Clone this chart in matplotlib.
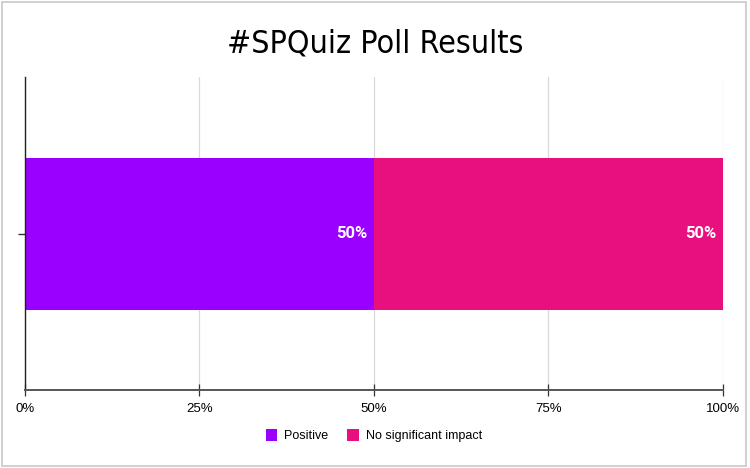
import matplotlib
matplotlib.use('Agg')
import matplotlib.pyplot as plt
from matplotlib.patches import Rectangle

# poll data
categories = ['']
series_names = ['Positive', 'No significant impact']
series_values = [[50], [50]]
series_colors = ['#9900ff', '#e8107f']
tick_values = [0, 25, 50, 75, 100]
tick_labels = ['0%', '25%', '50%', '75%', '100%']

plt.rcParams['font.family'] = ['Liberation Sans', 'DejaVu Sans']

fig = plt.figure(figsize=(7.5, 4.68), dpi=100)
ax = fig.add_axes([0.0333, 0.1667, 0.9307, 0.6683])

# thin gray border round the whole picture
fig.patches.append(Rectangle((0.002, 0.004), 0.993, 0.992, transform=fig.transFigure,
                             fill=False, edgecolor='#c8c8c8', linewidth=1.2))

left = 0
bars = []
for name, vals, col in zip(series_names, series_values, series_colors):
    b = ax.barh(categories, vals, left=left, height=0.486, color=col, label=name, zorder=2)
    bars.append(b)
    for rect, v in zip(b, vals):
        ax.text(rect.get_x() + rect.get_width() - 0.9, rect.get_y() + rect.get_height() / 2,
                '{}%'.format(v), color='white', fontweight='bold', fontsize=12,
                ha='right', va='center', family=['Roboto', 'DejaVu Sans'])
    left = left + vals[0]

ax.set_xlim(0, 100)
ax.set_ylim(-0.5, 0.5)
ax.set_xticks(tick_values)
ax.set_xticklabels(tick_labels, fontsize=9.5)
ax.grid(axis='x', color='#d9d9d9', linewidth=0.9, zorder=0)
ax.set_axisbelow(True)

for s in ['top', 'right']:
    ax.spines[s].set_visible(False)
ax.spines['bottom'].set_color('#555555')
ax.spines['bottom'].set_linewidth(1.4)
ax.spines['left'].set_color('#222222')
ax.spines['left'].set_linewidth(1.0)
ax.tick_params(axis='x', direction='inout', length=9, width=0.9, color='#333333', pad=5)
ax.tick_params(axis='y', length=5, width=1.0, color='#333333')

fig.suptitle('#SPQuiz Poll Results', y=0.94, fontsize=23,
             family=['DejaVu Sans'], stretch='condensed')

ax.legend(loc='upper center', bbox_to_anchor=(0.5, -0.09), ncol=2, frameon=False,
          fontsize=9, handlelength=0.9, handleheight=1.0, handletextpad=0.6, columnspacing=1.5)

fig.savefig('out.png', dpi=100)
